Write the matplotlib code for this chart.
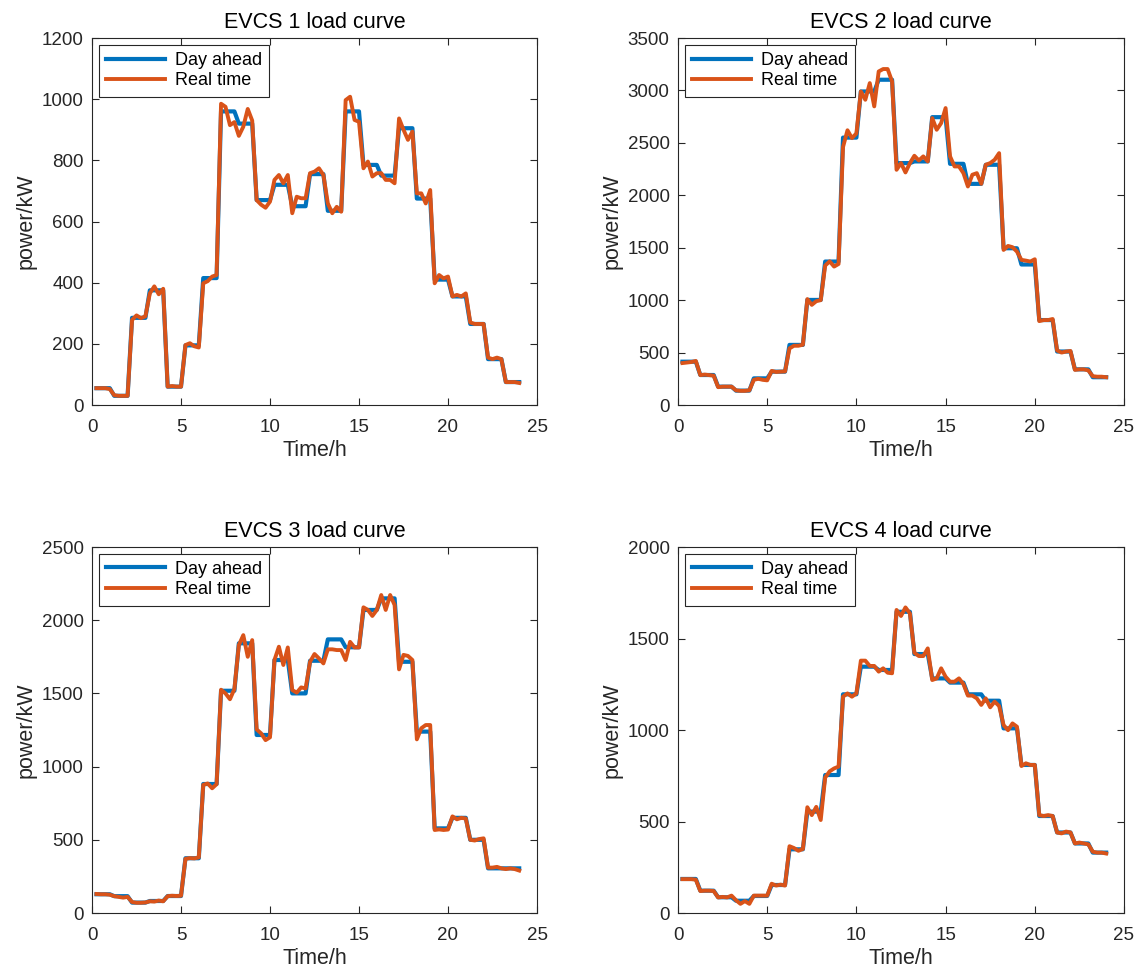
import numpy as np
import matplotlib
matplotlib.use("Agg")
import matplotlib.pyplot as plt

plt.rcParams['font.family'] = ['Liberation Sans', 'DejaVu Sans']

hours = np.arange(1, 97) / 4.0

titles = ["EVCS 1 load curve", "EVCS 2 load curve", "EVCS 3 load curve", "EVCS 4 load curve"]
ylims = [1200, 3500, 2500, 2000]
yticks = [np.arange(0, 1201, 200), np.arange(0, 3501, 500), np.arange(0, 2501, 500), np.arange(0, 2001, 500)]
xticks = [0, 5, 10, 15, 20, 25]
legend_labels = ["Day ahead", "Real time"]

# Day-ahead: hourly values (each held for four 15-min points)
da1 = [55, 30, 285, 375, 60, 195, 415, 960, 920, 670, 720, 650,
       755, 635, 960, 785, 750, 905, 675, 410, 355, 265, 150, 75]
da2 = [413, 286, 175, 137, 254, 318, 573, 1002, 1368, 2550, 2990, 3102,
       2307, 2323, 2745, 2300, 2109, 2291, 1495, 1340, 810, 510, 340, 265]
da3 = [128, 115, 71, 82, 116, 374, 881, 1518, 1842, 1216, 1728, 1500,
       1723, 1869, 1815, 2070, 2149, 1716, 1239, 578, 650, 500, 305, 305]
da4 = [186, 122, 86, 67, 93, 153, 348, 554, 754, 1195, 1346, 1328,
       1646, 1415, 1282, 1259, 1195, 1160, 1009, 809, 530, 440, 380, 330]

# Real-time: 15-min values
rt1 = [55, 55, 55, 52, 32, 30, 30, 30, 278, 293, 284, 290, 365, 388, 362, 380,
       60, 62, 60, 60, 196, 202, 192, 188, 398, 405, 420, 425, 985, 975, 915, 925,
       880, 910, 968, 930, 670, 655, 645, 665, 736, 752, 725, 752, 627, 681, 676, 676,
       758, 763, 774, 752, 659, 627, 648, 632, 997, 1008, 932, 926, 774, 796, 747, 758,
       758, 736, 736, 725, 937, 900, 867, 894, 692, 692, 659, 703, 398, 425, 414, 420,
       355, 360, 355, 365, 270, 265, 265, 265, 155, 150, 155, 150, 75, 75, 75, 72]
rt2 = [400, 405, 410, 420, 285, 290, 285, 280, 170, 175, 175, 175, 140, 135, 135, 140,
       240, 250, 240, 235, 325, 315, 318, 320, 540, 565, 565, 575, 1010, 955, 990, 1000,
       1330, 1370, 1320, 1345, 2460, 2620, 2545, 2590, 2990, 2911, 3070, 2848, 3181, 3204, 3204, 3086,
       2243, 2307, 2218, 2307, 2377, 2332, 2371, 2323, 2736, 2625, 2688, 2832, 2371, 2275, 2275, 2211,
       2084, 2196, 2211, 2109, 2291, 2307, 2339, 2402, 1479, 1517, 1505, 1463, 1384, 1377, 1368, 1390,
       800, 810, 810, 820, 520, 500, 510, 515, 335, 340, 340, 330, 275, 270, 270, 265]
rt3 = [130, 128, 128, 125, 115, 110, 105, 110, 75, 70, 70, 72, 80, 78, 85, 80,
       115, 118, 116, 118, 370, 375, 373, 380, 875, 885, 852, 880, 1525, 1500, 1460, 1530,
       1830, 1898, 1750, 1864, 1254, 1227, 1181, 1200, 1728, 1819, 1694, 1814, 1523, 1505, 1541, 1534,
       1716, 1769, 1739, 1705, 1801, 1801, 1796, 1796, 1728, 1852, 1814, 1814, 2088, 2070, 2029, 2070,
       2172, 2070, 2172, 2104, 1664, 1763, 1756, 1728, 1186, 1262, 1284, 1284, 567, 571, 567, 570,
       660, 640, 650, 645, 500, 495, 505, 510, 310, 310, 315, 305, 300, 305, 300, 290]
rt4 = [185, 185, 185, 182, 120, 122, 122, 120, 85, 88, 85, 95, 70, 50, 65, 50,
       95, 95, 95, 95, 160, 150, 155, 150, 365, 355, 340, 350, 578, 535, 580, 508,
       740, 774, 790, 800, 1182, 1200, 1182, 1200, 1379, 1379, 1350, 1350, 1319, 1337, 1313, 1310,
       1656, 1623, 1670, 1637, 1422, 1404, 1404, 1446, 1273, 1282, 1337, 1291, 1264, 1264, 1282, 1251,
       1188, 1188, 1173, 1137, 1173, 1124, 1155, 1131, 1027, 999, 1036, 1018, 803, 818, 809, 809,
       535, 530, 535, 530, 440, 435, 445, 440, 380, 385, 380, 375, 335, 330, 330, 325]

day_ahead = [da1, da2, da3, da4]
real_time = [rt1, rt2, rt3, rt4]

W, H = 1140, 972
fig = plt.figure(figsize=(W / 100, H / 100), dpi=100)

lefts = [92, 678, 92, 678]
rights = [537, 1124, 537, 1124]
tops = [38, 38, 547, 547]
bottoms = [405, 405, 913, 913]

axis_color = '#262626'
for i in range(4):
    ax = fig.add_axes([lefts[i] / W, 1 - bottoms[i] / H,
                       (rights[i] - lefts[i]) / W, (bottoms[i] - tops[i]) / H])
    da = np.repeat(day_ahead[i], 4)
    ax.plot(hours, da, color='#0072BD', lw=3.0, label=legend_labels[0], solid_joinstyle='round')
    ax.plot(hours, real_time[i], color='#D95319', lw=2.8, label=legend_labels[1], solid_joinstyle='round')
    ax.set_xlim(0, 25)
    ax.set_ylim(0, ylims[i])
    ax.set_xticks(xticks)
    ax.set_yticks(yticks[i])
    ax.tick_params(direction='in', length=5, width=0.8, labelsize=13.5, colors=axis_color,
                   top=True, right=True)
    ax.tick_params(axis='x', pad=10)
    ax.tick_params(axis='y', pad=6)
    for s in ax.spines.values():
        s.set_color(axis_color)
        s.set_linewidth(0.8)
    ax.set_title(titles[i], fontsize=15.5, pad=7, color='black')
    ax.set_xlabel("Time/h", fontsize=15.5, labelpad=3, color=axis_color)
    ax.set_ylabel("power/kW", fontsize=15.5, labelpad=4, color=axis_color)
    leg = ax.legend(loc='upper left', bbox_to_anchor=(0.015, 0.982), borderaxespad=0,
                    fontsize=13, handlelength=3.3, handletextpad=0.5, borderpad=0.4,
                    labelspacing=0.2, fancybox=False, framealpha=1)
    leg.get_frame().set_edgecolor(axis_color)
    leg.get_frame().set_linewidth(0.8)

fig.savefig("out.png", dpi=100)
